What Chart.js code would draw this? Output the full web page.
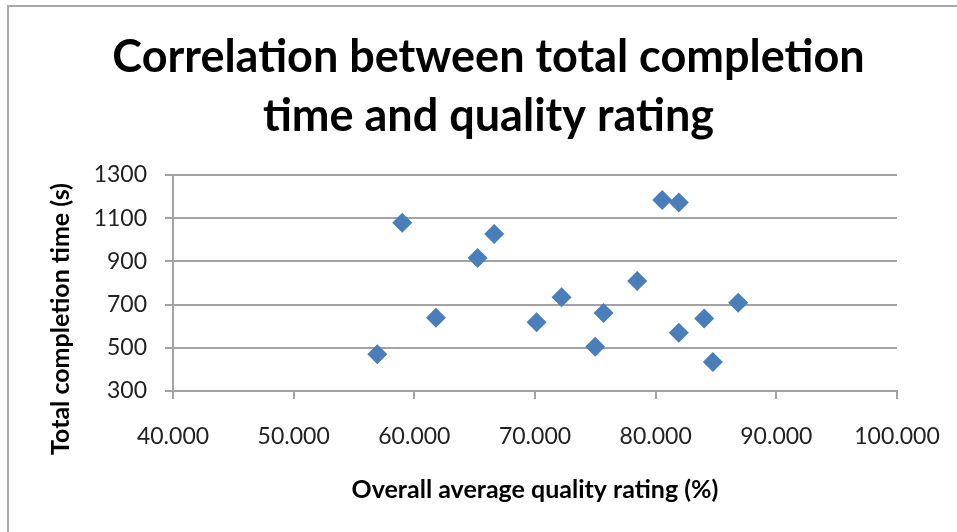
<!DOCTYPE html>
<html>
  <head>
    <title>Completion time vs quality rating</title>
    <script src="https://cdn.jsdelivr.net/npm/chart.js@4"></script>
    <style>
      body { margin: 0; background: #fff; }
      canvas { display: block; }
    </style>
  </head>
  <body>
    <canvas id="canvas" width="957" height="532"></canvas>
    <script>
      // overall average quality rating (%) per participant
      const quality = [56.93, 59.0, 61.79, 65.24, 66.62, 70.13, 72.2, 74.99,
        75.68, 78.47, 80.54, 81.92, 81.92, 84.02, 84.74, 86.84];
      // total completion time (s), same order
      const completionTime = [470, 1079, 639, 916, 1027, 618, 734, 505,
        661, 809, 1184, 1173, 570, 636, 434, 709];

      const titleLines = ['Correlation between total completion', 'time and quality rating'];
      const xTitle = 'Overall average quality rating (%)';
      const yTitle = 'Total completion time (s)';

      const FONT = 'Lato';
      const gridGrey = '#a3a3a3';

      // frame line + y title (Excel centres it a bit lower than the plot area)
      const decorations = {
        id: 'decorations',
        beforeDraw(chart) {
          const ctx = chart.ctx;
          ctx.save();
          ctx.strokeStyle = '#a8a8a8';
          ctx.lineWidth = 2;
          ctx.beginPath();
          ctx.moveTo(8, 540);
          ctx.lineTo(8, 6);
          ctx.lineTo(960, 6);
          ctx.stroke();
          ctx.restore();
        },
        afterDraw(chart) {
          const ctx = chart.ctx;
          ctx.save();
          ctx.translate(61, 319);
          ctx.rotate(-Math.PI / 2);
          ctx.font = 'bold 25px ' + FONT;
          ctx.fillStyle = '#000';
          ctx.textAlign = 'center';
          ctx.textBaseline = 'middle';
          ctx.fillText(yTitle, 0, 0);
          ctx.restore();
        }
      };

      const points = quality.map((q, i) => ({ x: q, y: completionTime[i] }));

      new Chart(document.getElementById('canvas'), {
        type: 'scatter',
        data: {
          datasets: [{
            label: 'Completion time',
            data: points,
            pointStyle: 'rectRot',
            pointRadius: 10,
            pointHoverRadius: 10,
            pointBorderWidth: 0,
            backgroundColor: '#4A7EBB',
            borderColor: '#4A7EBB'
          }]
        },
        options: {
          responsive: false,
          animation: false,
          devicePixelRatio: 1,
          layout: { padding: { top: 0, left: 20, right: 0, bottom: 0 } },
          plugins: {
            legend: { display: false },
            tooltip: { enabled: false },
            title: {
              display: true,
              text: titleLines,
              color: '#000',
              font: { family: FONT, size: 45, weight: 'bold', lineHeight: 1.333 },
              padding: { top: 27, bottom: 28 }
            }
          },
          scales: {
            x: {
              type: 'linear',
              min: 40,
              max: 100,
              afterFit(scale) {
                scale.height = 141;
                scale.paddingLeft = 0;
                scale.paddingRight = 0;
              },
              ticks: {
                stepSize: 10,
                padding: 24,
                color: '#222',
                font: { family: FONT, size: 23 },
                callback: v => v.toFixed(3)
              },
              grid: { drawOnChartArea: false, color: gridGrey, lineWidth: 2, tickLength: 8 },
              border: { color: gridGrey, width: 2 },
              title: {
                display: true,
                text: xTitle,
                color: '#000',
                font: { family: FONT, size: 25, weight: 'bold' },
                padding: { top: 0, bottom: 27 }
              }
            },
            y: {
              min: 300,
              max: 1300,
              afterFit(scale) { scale.width = 153; },
              ticks: {
                stepSize: 200,
                padding: 18,
                color: '#222',
                font: { family: FONT, size: 23 },
                callback: v => String(v)
              },
              grid: { color: gridGrey, lineWidth: 2, tickLength: 8 },
              border: { color: gridGrey, width: 2 }
            },
            // empty right-hand gutter so the title stays centred on the whole frame
            gutter: {
              type: 'linear',
              position: 'right',
              afterFit(scale) { scale.width = 60; },
              ticks: { display: false },
              grid: { display: false },
              border: { display: false }
            }
          }
        },
        plugins: [decorations]
      });
    </script>
  </body>
</html>
